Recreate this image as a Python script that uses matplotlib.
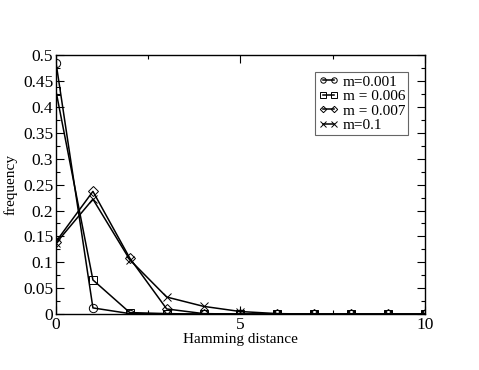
import matplotlib
matplotlib.use("Agg")
import matplotlib.pyplot as plt
from matplotlib.ticker import MultipleLocator

hamming = [0, 1, 2, 3, 4, 5, 6, 7, 8, 9, 10]
freq_m0001 = [0.485, 0.012, 0.001, 0.0, 0.0, 0.0, 0.0, 0.0, 0.0, 0.0, 0.0]
freq_m0006 = [0.430, 0.066, 0.003, 0.001, 0.0, 0.0, 0.0, 0.0, 0.0, 0.0, 0.0]
freq_m0007 = [0.140, 0.237, 0.108, 0.010, 0.001, 0.0, 0.0, 0.0, 0.0, 0.0, 0.0]
freq_m01 = [0.137, 0.222, 0.105, 0.033, 0.015, 0.005, 0.001, 0.0, 0.0, 0.0, 0.0]
labels = ["m=0.001", "m = 0.006", "m = 0.007", "m=0.1"]

plt.rcParams["font.family"] = ["Liberation Serif", "DejaVu Serif"]

fig = plt.figure(figsize=(4.79, 3.70), dpi=100)
ax = fig.add_axes([0.117, 0.151, 0.770, 0.700])

style = dict(color="black", lw=1.1, markersize=6, markerfacecolor="none",
             markeredgewidth=0.7)
ax.plot(hamming, freq_m0001, marker="o", label=labels[0], **style)
ax.plot(hamming, freq_m0006, marker="s", label=labels[1], **style)
ax.plot(hamming, freq_m0007, marker="D", label=labels[2],
        **{**style, "markersize": 5})
ax.plot(hamming, freq_m01, marker="x", label=labels[3], **style)

ax.set_xlim(0, 10)
ax.set_ylim(0, 0.5)
ax.xaxis.set_major_locator(MultipleLocator(5))
ax.xaxis.set_minor_locator(MultipleLocator(2.5))
ax.yaxis.set_major_locator(MultipleLocator(0.05))
ax.yaxis.set_minor_locator(MultipleLocator(0.025))
ax.yaxis.set_major_formatter(plt.FuncFormatter(lambda v, p: f"{v:g}"))
ax.tick_params(which="both", direction="in", top=True, right=True,
               labelsize=12.5, pad=2)
ax.tick_params(which="major", length=6, width=0.8)
ax.tick_params(which="minor", length=3, width=0.8)
for s in ax.spines.values():
    s.set_linewidth(1.0)

ax.set_xlabel("Hamming distance", fontsize=11, labelpad=0)
ax.set_ylabel("frequency", fontsize=11, labelpad=4)

leg = ax.legend(loc="upper right", bbox_to_anchor=(0.955, 0.935), fontsize=11,
                handlelength=1.3, handletextpad=0.3, borderpad=0.2,
                labelspacing=0.05, fancybox=False, framealpha=1,
                edgecolor="0.4", markerscale=0.65, numpoints=2,
                borderaxespad=0)
leg.get_frame().set_linewidth(0.8)

fig.savefig("out.png", dpi=100)
